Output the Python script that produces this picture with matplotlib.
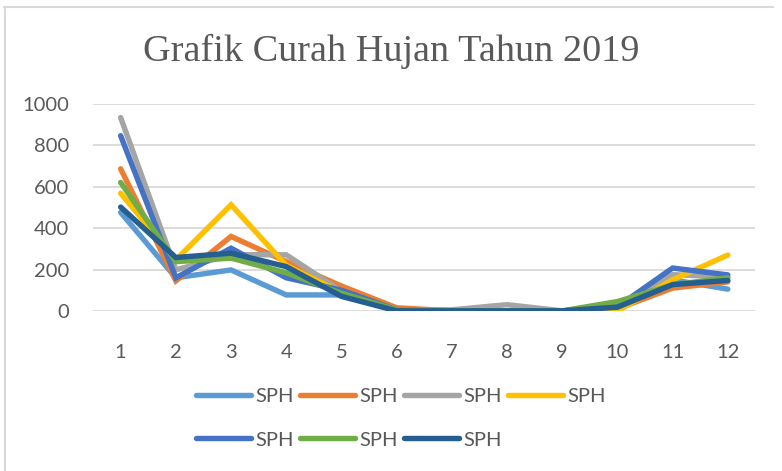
import matplotlib.pyplot as plt
from matplotlib.lines import Line2D

# data
bulan = [1, 2, 3, 4, 5, 6, 7, 8, 9, 10, 11, 12]
sph1 = [476, 160, 198, 77, 77, 5, 0, 0, 0, 10, 150, 105]
sph2 = [687, 145, 360, 238, 120, 15, 0, 0, 0, 10, 110, 140]
sph3 = [935, 198, 272, 271, 95, 5, 5, 30, 0, 15, 175, 164]
sph4 = [569, 247, 513, 220, 90, 5, 0, 0, 0, 0, 150, 270]
sph5 = [847, 160, 303, 160, 100, 5, 0, 0, 0, 20, 207, 174]
sph6 = [621, 238, 255, 184, 85, 5, 0, 0, 0, 45, 126, 160]
sph7 = [502, 258, 279, 214, 70, 0, 0, 0, 0, 18, 127, 147]
seri = [sph1, sph2, sph3, sph4, sph5, sph6, sph7]
label = ['SPH'] * 7
warna = ['#5B9BD5', '#ED7D31', '#A5A5A5', '#FFC000', '#4472C4', '#70AD47', '#255E91']

fig = plt.figure(figsize=(7.82, 4.71), dpi=100)
ax = fig.add_axes([0.119, 0.340, 0.847, 0.439])

for y, c, lb in zip(seri, warna, label):
    ax.plot(bulan, y, color=c, lw=3.9, label=lb, solid_capstyle='round',
            solid_joinstyle='miter')

ax.set_xlim(0.5, 12.5)
ax.set_ylim(0, 1000)
ax.set_xticks(bulan)
ax.set_yticks(range(0, 1001, 200))
ax.grid(axis='y', color='#D9D9D9', lw=1.3)
ax.set_axisbelow(True)
for s in ax.spines.values():
    s.set_visible(False)
ax.tick_params(length=0, colors='#595959', labelsize=14.5, labelfontfamily='Lato')
ax.tick_params(axis='y', pad=17)
ax.tick_params(axis='x', pad=24)

# judul di tengah gambar
fig.text(0.5, 1 - 51 / 471, 'Grafik Curah Hujan Tahun 2019', fontsize=27.5,
         color='#595959', family='Liberation Serif', ha='center', va='center')

# legend row-major like excel
h, l = ax.get_legend_handles_labels()
urut = [0, 4, 1, 5, 2, 6, 3]
leg = fig.legend([h[i] for i in urut], [l[i] for i in urut], ncol=4,
                 loc='upper left', bbox_to_anchor=(0.24, 0.193), frameon=False,
                 prop={'family': 'Lato', 'size': 14.5}, labelcolor='#595959',
                 handlelength=2.75, handletextpad=0.2, columnspacing=0.3,
                 labelspacing=1.3, borderaxespad=0)

# chart border (top + left)
fig.add_artist(Line2D([4 / 782, 773 / 782], [1 - 7 / 471, 1 - 7 / 471],
                      color='#D9D9D9', lw=1.5, transform=fig.transFigure))
fig.add_artist(Line2D([5 / 782, 5 / 782], [1 - 7 / 471, 0],
                      color='#D9D9D9', lw=1.5, transform=fig.transFigure))

fig.savefig('out.png', dpi=100)
